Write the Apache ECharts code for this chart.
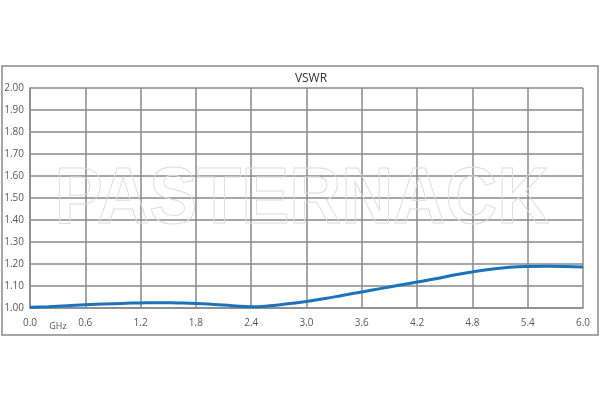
<!DOCTYPE html>
<html>
<head>
<meta charset="utf-8">
<script src="https://cdn.jsdelivr.net/npm/echarts@6/dist/echarts.min.js"></script>
<style>html,body{margin:0;padding:0;background:#fff;}#c{width:600px;height:400px;}</style>
</head>
<body>
<div id="c"></div>
<script>
const title = 'VSWR';
const xUnit = 'GHz';
const watermark = 'PASTERNACK';
const freqGHz = [0.0,0.2,0.4,0.6,0.8,1.0,1.2,1.4,1.6,1.8,2.0,2.2,2.4,2.6,2.8,3.0,3.2,3.4,3.6,3.8,4.0,4.2,4.4,4.6,4.8,5.0,5.2,5.4,5.6,5.8,6.0];
const vswr = [1.003,1.006,1.010,1.015,1.018,1.021,1.023,1.024,1.023,1.021,1.016,1.010,1.006,1.010,1.019,1.030,1.043,1.058,1.073,1.088,1.103,1.118,1.133,1.150,1.164,1.176,1.185,1.189,1.190,1.189,1.186];

const chart = echarts.init(document.getElementById('c'), null, {renderer: 'canvas'});
const gridColor = '#8a8a8a';
const labelFont = 'Open Sans, Noto Sans, sans-serif';
chart.setOption({
  animation: false,
  backgroundColor: '#fff',
  title: {
    text: title, left: 306, top: 68, textAlign: 'center',
    textStyle: {fontSize: 12, fontWeight: 'normal', color: '#333', fontFamily: labelFont}
  },
  grid: {left: 30, right: 17, top: 88, bottom: 92},
  xAxis: {
    type: 'value', min: 0, max: 6, interval: 0.6,
    axisLine: {show: true, lineStyle: {color: gridColor, width: 1.5}},
    axisTick: {show: false},
    splitLine: {show: true, lineStyle: {color: gridColor, width: 1.5}},
    axisLabel: {color: '#595959', fontSize: 10, fontFamily: labelFont, margin: 10,
      formatter: v => v.toFixed(1)}
  },
  yAxis: {
    type: 'value', min: 1, max: 2, interval: 0.1,
    axisLine: {show: true, lineStyle: {color: gridColor, width: 1.5}},
    axisTick: {show: false},
    splitLine: {show: true, lineStyle: {color: gridColor, width: 1.5}},
    axisLabel: {color: '#595959', fontSize: 10, fontFamily: labelFont, margin: 6,
      formatter: v => v.toFixed(2)}
  },
  graphic: [
    {type: 'rect', shape: {x: 2, y: 66, width: 596, height: 269},
     style: {fill: 'none', stroke: gridColor, lineWidth: 1.5}, z: 0, silent: true},
    {type: 'text', x: 58, y: 326, style: {text: xUnit, fill: '#595959', fontSize: 9,
      fontFamily: labelFont, align: 'center', verticalAlign: 'middle'}, z: 10},
    {type: 'text', x: 302, y: 201, scaleX: 0.9, originX: 0, originY: 0,
     style: {text: watermark, fill: 'rgba(255,255,255,0)', stroke: '#dcdcdc', lineWidth: 1,
      fontSize: 80, fontWeight: 'bold', fontFamily: 'Liberation Sans, Arial, sans-serif',
      align: 'center', verticalAlign: 'middle'}, z: 10, silent: true}
  ],
  series: [{
    type: 'line', data: freqGHz.map((f, i) => [f, vswr[i]]),
    showSymbol: false, smooth: true,
    lineStyle: {color: '#1c72bd', width: 3},
    itemStyle: {color: '#1c72bd'}
  }]
});
</script>
</body>
</html>
